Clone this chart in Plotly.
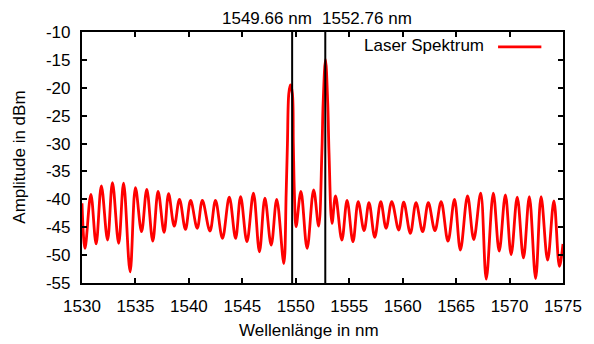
import plotly.graph_objects as go

# ---- data ----
wavelength_nm = [
    1530.0, 1530.28, 1530.83, 1531.32, 1531.81, 1532.39, 1532.85, 1533.43, 1533.89, 1534.5,
    1535.0, 1535.57, 1536.06, 1536.62, 1537.12, 1537.68, 1538.1, 1538.63, 1539.12, 1539.68,
    1540.16, 1540.78, 1541.26, 1541.97, 1542.49, 1543.14, 1543.78, 1544.37, 1544.84, 1545.43,
    1546.04, 1546.6, 1547.11, 1547.7, 1548.22, 1548.88,
    1549.1, 1549.22, 1549.35, 1549.5, 1549.68, 1549.77, 1549.87,
    1550.03, 1550.48, 1551.06, 1551.67, 1552.14,
    1552.44, 1552.56, 1552.78, 1552.99, 1553.11,
    1553.39, 1553.72, 1554.31, 1554.8, 1555.35, 1555.84, 1556.39, 1556.85, 1557.39, 1557.95,
    1558.45, 1558.98, 1559.63, 1560.1, 1560.72, 1561.25, 1561.87, 1562.4, 1563.02, 1563.6,
    1564.24, 1564.85, 1565.4, 1566.07, 1566.65, 1567.3, 1567.82, 1568.48, 1569.03, 1569.61,
    1570.15, 1570.72, 1571.3, 1571.85, 1572.44, 1572.95, 1573.56, 1574.15, 1574.66, 1575.0,
]
amplitude_dbm = [
    -40.7, -48.8, -39.1, -48.0, -37.6, -47.3, -37.0, -47.9, -37.1, -53.0,
    -37.9, -45.8, -38.2, -47.5, -38.6, -45.9, -39.0, -44.8, -40.0, -45.4,
    -40.2, -45.2, -40.2, -45.7, -40.2, -47.0, -39.6, -47.0, -39.5, -47.6,
    -38.9, -49.4, -39.8, -48.2, -40.0, -51.5,
    -38.9, -30.0, -21.0, -19.5, -21.0, -30.0, -38.9,
    -44.9, -38.6, -48.8, -38.3, -44.8,
    -31.7, -22.8, -14.9, -22.8, -31.7,
    -44.3, -39.4, -47.3, -40.2, -47.6, -40.4, -45.6, -40.6, -46.8, -40.4,
    -45.2, -40.4, -45.5, -40.5, -46.1, -40.6, -45.8, -40.6, -45.6, -40.4,
    -47.5, -40.0, -49.1, -39.4, -47.2, -38.9, -54.3, -38.9, -49.3, -39.2,
    -49.9, -39.6, -50.5, -39.5, -54.2, -39.5, -50.9, -40.3, -52.0, -48.0,
]

x_tick_values = [1530, 1535, 1540, 1545, 1550, 1555, 1560, 1565, 1570, 1575]
y_tick_values = [-10, -15, -20, -25, -30, -35, -40, -45, -50, -55]
y_tick_labels = ["-10", "-15", "-20", "-25", "-30", "-35", "-40", "-45", "-50", "-55"]

marker_wavelengths = [1549.66, 1552.76]
marker_labels = ["1549.66 nm", "1552.76 nm"]

series_name = "Laser Spektrum"
x_title = "Wellenlänge in nm"
y_title = "Amplitude in dBm"

FONT = "Liberation Sans, Arial, Helvetica, sans-serif"
FS = 17

fig = go.Figure()
fig.add_trace(go.Scatter(
    x=wavelength_nm, y=amplitude_dbm, mode="lines", name=series_name,
    line=dict(color="#ff0000", width=2.8, shape="spline", smoothing=1.0),
    showlegend=False, hoverinfo="skip",
))

shapes = []
for wl in marker_wavelengths:
    shapes.append(dict(type="line", xref="x", yref="y", x0=wl, x1=wl, y0=-55, y1=-10,
                       line=dict(color="black", width=2), layer="above"))
# legend sample line (gnuplot style: key text then line sample)
shapes.append(dict(type="line", xref="paper", yref="paper", x0=0.865, x1=0.955,
                   y0=0.941, y1=0.941, line=dict(color="#ff0000", width=2.8)))

annotations = [
    dict(text=marker_labels[0], xref="paper", yref="paper", x=0.384, y=1.052,
         xanchor="center", yanchor="middle", showarrow=False),
    dict(text=marker_labels[1], xref="paper", yref="paper", x=0.592, y=1.052,
         xanchor="center", yanchor="middle", showarrow=False),
    dict(text=series_name, xref="paper", yref="paper", x=0.8394, y=0.948,
         xanchor="right", yanchor="middle", showarrow=False),
    dict(text=x_title, xref="paper", yref="paper", x=0.471, y=-0.191,
         xanchor="center", yanchor="middle", showarrow=False),
    dict(text=y_title, xref="paper", yref="paper", x=-0.1306, y=0.5,
         xanchor="center", yanchor="middle", showarrow=False, textangle=-90),
]

axis_common = dict(
    showline=True, linecolor="black", linewidth=2.2, mirror="ticks",
    ticks="inside", ticklen=5, tickwidth=1.6, tickcolor="black",
    showgrid=False, zeroline=False,
    tickfont=dict(family=FONT, size=FS, color="black"),
)

fig.update_layout(
    width=594, height=344,
    margin=dict(l=82, r=22, t=32, b=61),
    paper_bgcolor="white", plot_bgcolor="white",
    font=dict(family=FONT, size=FS, color="black"),
    showlegend=False,
    shapes=shapes, annotations=annotations,
    xaxis=dict(range=[1530, 1575], tickmode="array", tickvals=x_tick_values,
               ticklabelstandoff=6, **axis_common),
    yaxis=dict(range=[-55, -10], tickmode="array", tickvals=y_tick_values,
               ticktext=y_tick_labels, ticklabelstandoff=6, **axis_common),
)

fig.write_html("out.html", config={"displayModeBar": False},
               post_script="document.body.style.margin='0';")
